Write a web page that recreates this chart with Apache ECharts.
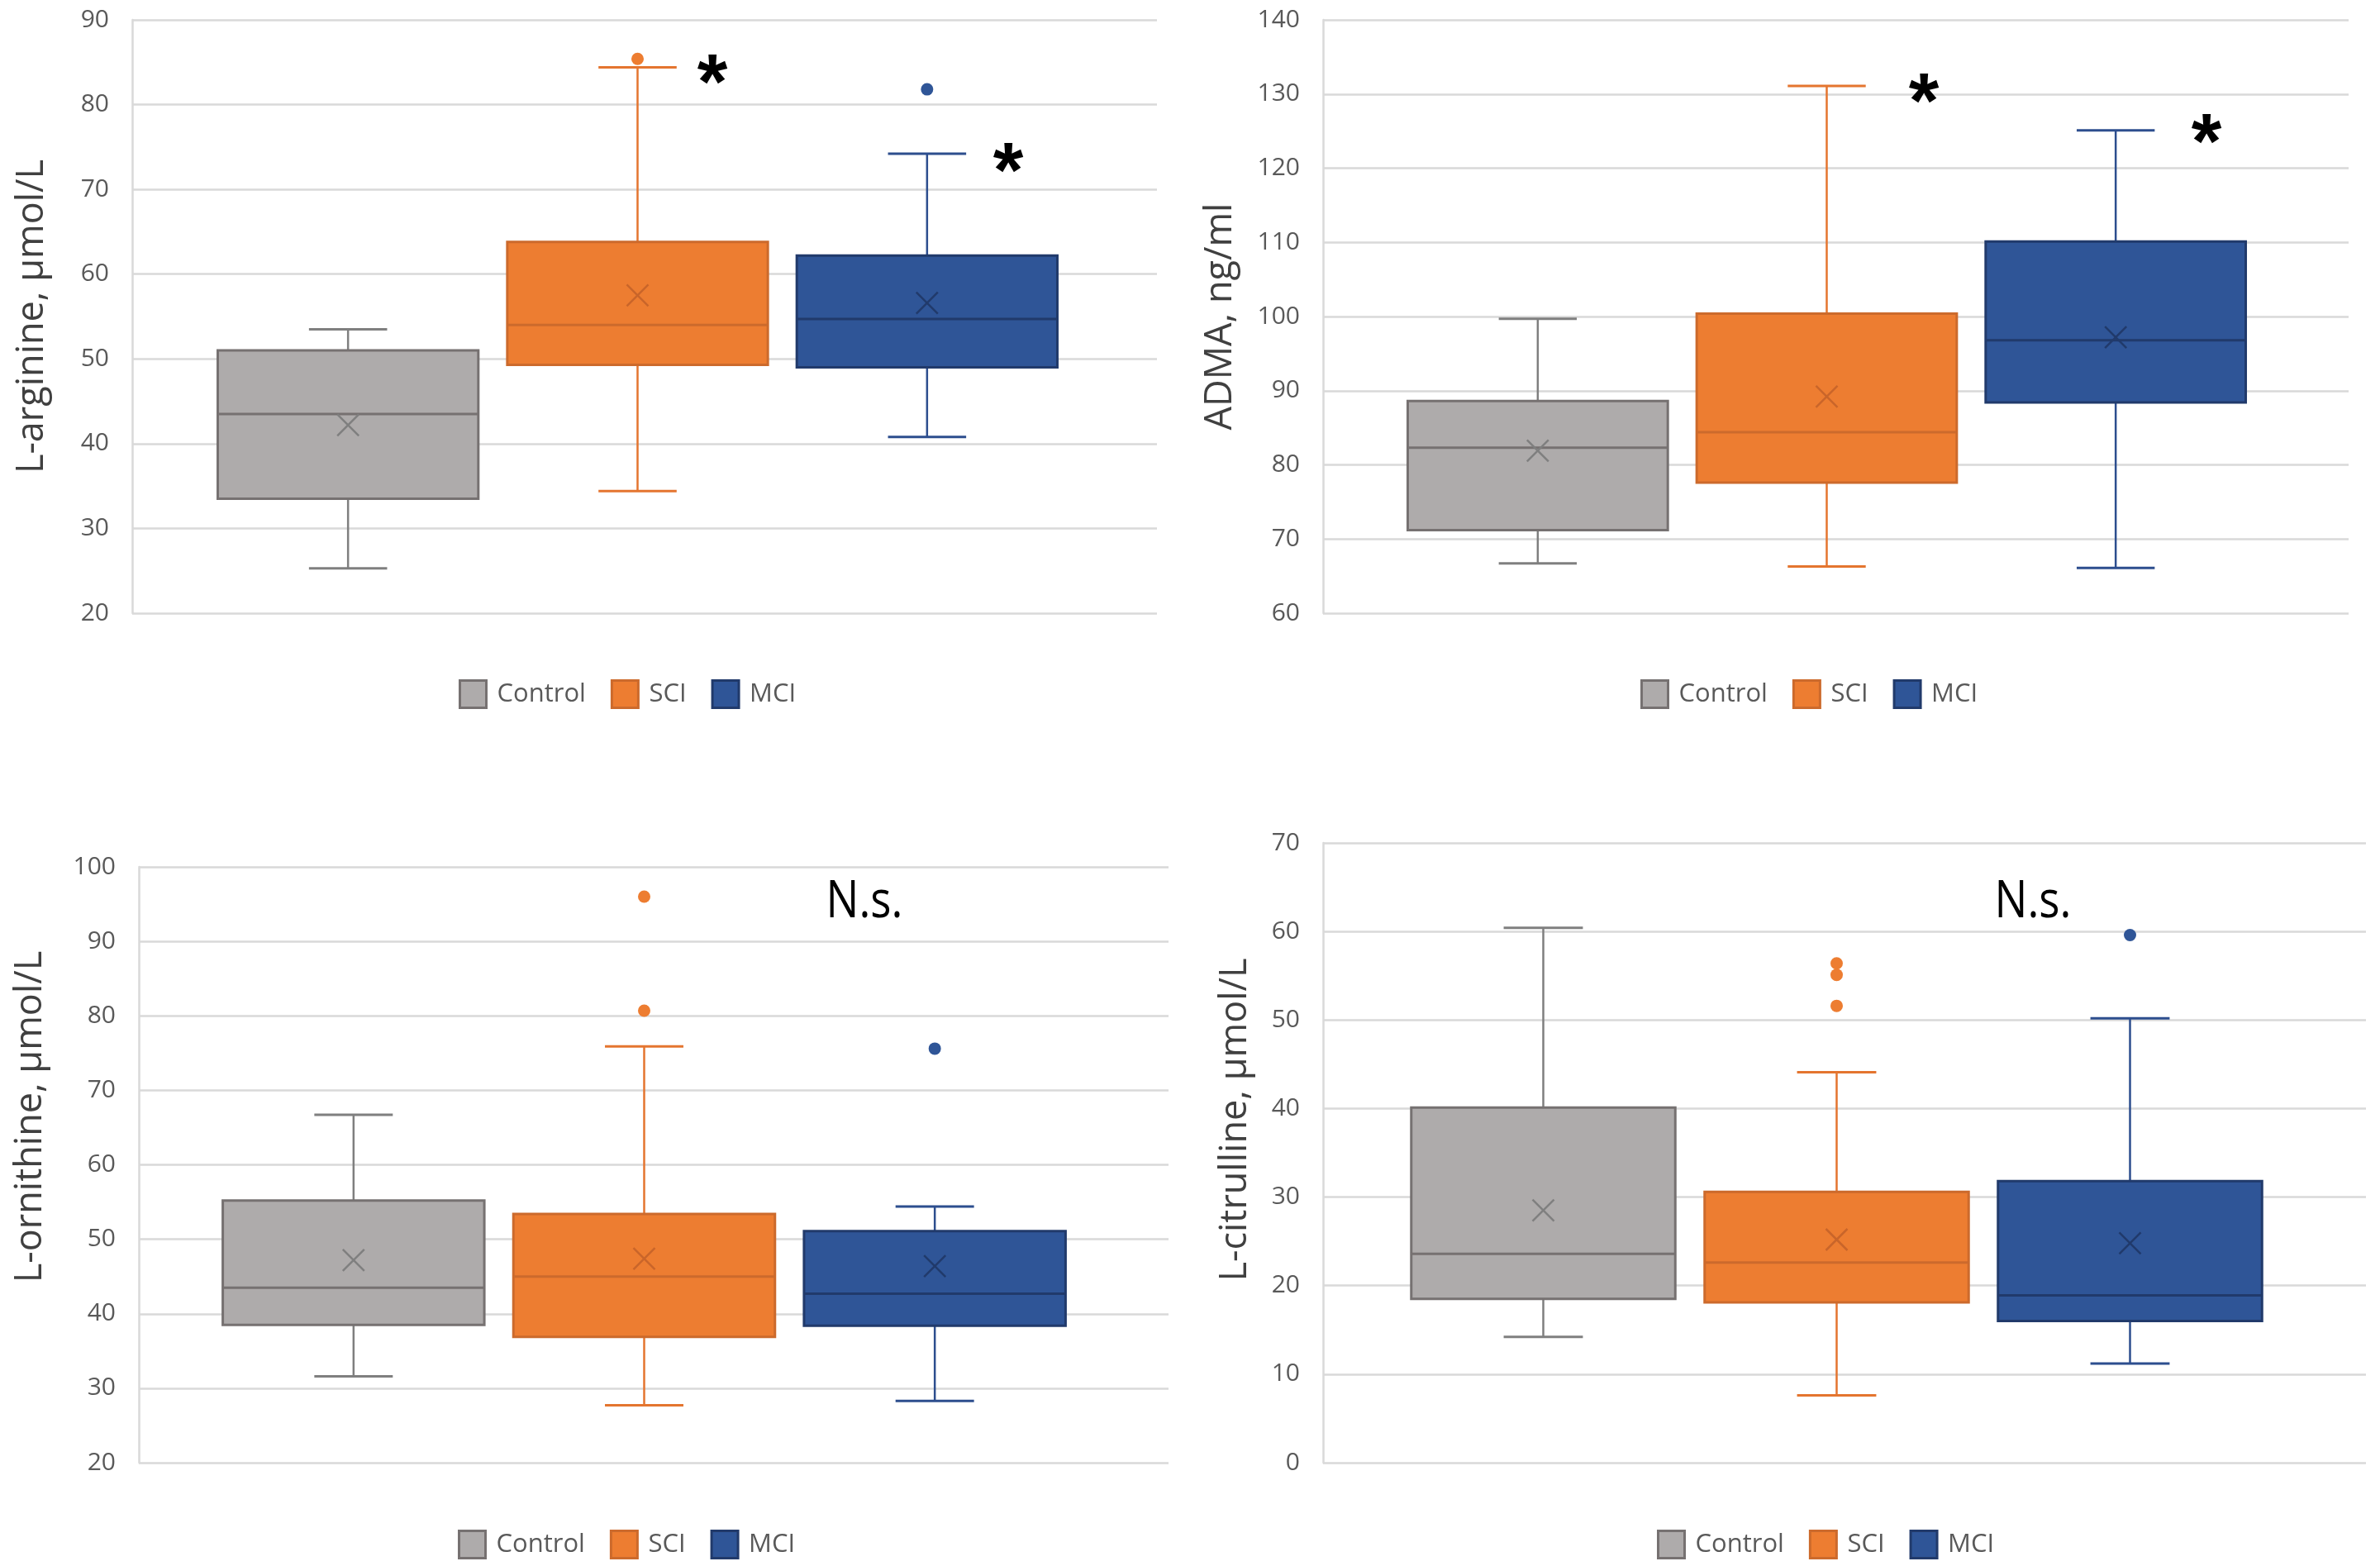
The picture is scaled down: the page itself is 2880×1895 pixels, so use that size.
<!DOCTYPE html>
<html><head><meta charset="utf-8">
<script src="https://cdn.jsdelivr.net/npm/echarts@6/dist/echarts.min.js"></script>
<style>html,body{margin:0;padding:0;background:#fff}#c{width:2880px;height:1895px}</style>
</head><body><div id="c"></div>
<script>
// ---- data ----
const groups = ['Control', 'SCI', 'MCI'];
// box values: [min, Q1, median, Q3, max]
const argBox  = [[25.3, 33.5, 43.5, 51.0, 53.5], [34.4, 49.3, 54.0, 63.8, 84.4], [40.8, 49.0, 54.7, 62.2, 74.2]];
const argMean = [42.2, 57.5, 56.6];
const argOut  = [[], [85.4], [81.8]];
const argAxis = [20, 90, 10];

const admaBox  = [[66.7, 71.2, 82.3, 88.6, 99.7], [66.3, 77.6, 84.4, 100.4, 131.1], [66.1, 88.4, 96.8, 110.1, 125.1]];
const admaMean = [81.9, 89.2, 97.2];
const admaOut  = [[], [], []];
const admaAxis = [60, 140, 10];

const ornBox  = [[31.6, 38.5, 43.5, 55.2, 66.7], [27.7, 36.9, 45.0, 53.4, 75.9], [28.3, 38.4, 42.7, 51.1, 54.4]];
const ornMean = [47.2, 47.4, 46.4];
const ornOut  = [[], [96.0, 80.7], [75.6]];
const ornAxis = [20, 100, 10];

const citBox  = [[14.2, 18.5, 23.6, 40.1, 60.4], [7.6, 18.1, 22.6, 30.6, 44.1], [11.2, 16.0, 18.9, 31.8, 50.2]];
const citMean = [28.5, 25.2, 24.8];
const citOut  = [[], [56.4, 55.1, 51.6], [59.6]];
const citAxis = [0, 70, 10];

const titles = ['L-arginine, \u00b5mol/L', 'ADMA, ng/ml', 'L-ornithine, \u00b5mol/L', 'L-citrulline, \u00b5mol/L'];

// ---- styles & layout ----
const styles = [
  {fill: '#AEABAB', border: '#767171', whisker: '#7F7F7F', mean: '#7F7F7F', dot: '#AEABAB'},
  {fill: '#ED7D31', border: '#CC6A2C', whisker: '#E4752F', mean: '#C9652A', dot: '#ED7D31'},
  {fill: '#2F5597', border: '#213A6B', whisker: '#2D4E8E', mean: '#213A6B', dot: '#2F5597'}
];
const layout = [
  {a: {left: 160, top: 24, width: 1240, height: 718}, b: {left: 246, width: 1051}, gap: 98, pad: 0, legend: {left: 550, top: 817}},
  {a: {left: 1601, top: 24, width: 1241, height: 718}, b: {left: 1686, width: 1049}, gap: 101, pad: 0, legend: {left: 1980, top: 817}},
  {a: {left: 168, top: 1049, width: 1246, height: 721}, b: {left: 252, width: 1055}, gap: 108, pad: 116, legend: {left: 549, top: 1846}},
  {a: {left: 1601, top: 1020, width: 1262, height: 750}, b: {left: 1690, width: 1065}, gap: 83, pad: 80, legend: {left: 2000, top: 1846}}
];
const panels = [
  {box: argBox, mean: argMean, out: argOut, axis: argAxis},
  {box: admaBox, mean: admaMean, out: admaOut, axis: admaAxis},
  {box: ornBox, mean: ornMean, out: ornOut, axis: ornAxis},
  {box: citBox, mean: citMean, out: citOut, axis: citAxis}
];

function makeRender(st) {
  return function (params, api) {
    const i = api.value(0);
    const lo = api.coord([i, api.value(1)]);
    const q1 = api.coord([i, api.value(2)]);
    const md = api.coord([i, api.value(3)]);
    const q3 = api.coord([i, api.value(4)]);
    const hi = api.coord([i, api.value(5)]);
    const mn = api.coord([i, api.value(6)]);
    const band = api.size([1, 0])[0];
    const bw = band * 0.9, cw = bw * 0.3, cx = lo[0], m = 13;
    const ln = (x1, y1, x2, y2, c, w) => ({type: 'line', shape: {x1, y1, x2, y2}, style: {stroke: c, lineWidth: w}});
    return {type: 'group', children: [
      ln(cx, q3[1], cx, hi[1], st.whisker, 2.5),
      ln(cx, q1[1], cx, lo[1], st.whisker, 2.5),
      ln(cx - cw / 2, hi[1], cx + cw / 2, hi[1], st.whisker, 3),
      ln(cx - cw / 2, lo[1], cx + cw / 2, lo[1], st.whisker, 3),
      {type: 'rect', shape: {x: cx - bw / 2, y: q3[1], width: bw, height: q1[1] - q3[1]},
       style: {fill: st.fill, stroke: st.border, lineWidth: 3}},
      ln(cx - bw / 2, md[1], cx + bw / 2, md[1], st.border, 3),
      ln(cx - m, mn[1] - m, cx + m, mn[1] + m, st.mean, 2.5),
      ln(cx - m, mn[1] + m, cx + m, mn[1] - m, st.mean, 2.5)
    ]};
  };
}

const grid = [], xAxis = [], yAxis = [], series = [], legend = [];
const labelFont = {fontFamily: 'Open Sans', fontSize: 30, color: '#595959'};
panels.forEach((p, k) => {
  const L = layout[k];
  grid.push({left: L.a.left, top: L.a.top, width: L.a.width, height: L.a.height});
  grid.push({left: L.b.left, top: L.a.top, width: L.b.width, height: L.a.height});
  const gA = 2 * k, gB = 2 * k + 1;
  xAxis.push({type: 'category', gridIndex: gA, data: [''], show: false});
  xAxis.push({type: 'category', gridIndex: gB, data: groups, show: false, boundaryGap: true});
  yAxis.push({
    type: 'value', gridIndex: gA, min: p.axis[0], max: p.axis[1], interval: p.axis[2],
    name: titles[k], nameLocation: 'middle', nameRotate: 90, nameGap: L.gap,
    nameTextStyle: {fontFamily: 'Open Sans', fontSize: 45, color: '#404040', padding: [0, 0, 0, L.pad]},
    axisLine: {show: true, lineStyle: {color: '#D9D9D9', width: 2.5}},
    axisTick: {show: false},
    axisLabel: Object.assign({margin: 28}, labelFont),
    splitLine: {show: true, lineStyle: {color: '#D9D9D9', width: 2.5}}
  });
  yAxis.push({type: 'value', gridIndex: gB, min: p.axis[0], max: p.axis[1], interval: p.axis[2], show: false, splitLine: {show: false}});
  groups.forEach((g, i) => {
    const st = styles[i];
    series.push({
      type: 'custom', name: g, xAxisIndex: gB, yAxisIndex: gB,
      itemStyle: {color: st.fill, borderColor: st.border},
      renderItem: makeRender(st),
      encode: {x: 0, y: [1, 2, 3, 4, 5, 6]},
      data: [[i].concat(p.box[i], [p.mean[i]])],
      z: 2
    });
    if (p.out[i].length) {
      series.push({
        type: 'scatter', name: g + ' outliers', xAxisIndex: gB, yAxisIndex: gB,
        symbol: 'circle', symbolSize: 15, itemStyle: {color: st.dot, opacity: 1},
        data: p.out[i].map(v => [i, v]), z: 3
      });
    }
  });
  legend.push({
    left: L.legend.left, top: L.legend.top, orient: 'horizontal', icon: 'rect',
    itemWidth: 32, itemHeight: 33, itemGap: 30, selectedMode: false,
    textStyle: {fontFamily: 'Open Sans', fontSize: 31, color: '#595959', padding: [0, 0, 0, 8]},
    data: groups.map((g, i) => ({name: g, itemStyle: {color: styles[i].fill, borderColor: styles[i].border, borderWidth: 3}}))
  });
});

const starFont = {fontFamily: 'Liberation Sans', fontWeight: 'bold', fontSize: 94, fill: '#000'};
const nsFont = {fontFamily: 'Open Sans', fontSize: 63, fill: '#000'};
const notes = [
  {text: '*', x: 862, y: 83 + 22, f: starFont, sx: 1},
  {text: '*', x: 1220, y: 190 + 22, f: starFont, sx: 1},
  {text: '*', x: 2328, y: 106 + 22, f: starFont, sx: 1},
  {text: '*', x: 2670, y: 155 + 22, f: starFont, sx: 1},
  {text: 'N.s.', x: 1046, y: 1092, f: nsFont, sx: 0.84},
  {text: 'N.s.', x: 2460, y: 1092, f: nsFont, sx: 0.84}
];
const graphic = notes.map(n => ({
  type: 'text', x: n.x, y: n.y, z: 10, scaleX: n.sx,
  style: Object.assign({text: n.text, align: 'center', verticalAlign: 'middle'}, n.f)
}));

const chart = echarts.init(document.getElementById('c'), null, {renderer: 'canvas'});
chart.setOption({
  backgroundColor: '#fff', animation: false,
  grid, xAxis, yAxis, series, legend, graphic
});
</script></body></html>
